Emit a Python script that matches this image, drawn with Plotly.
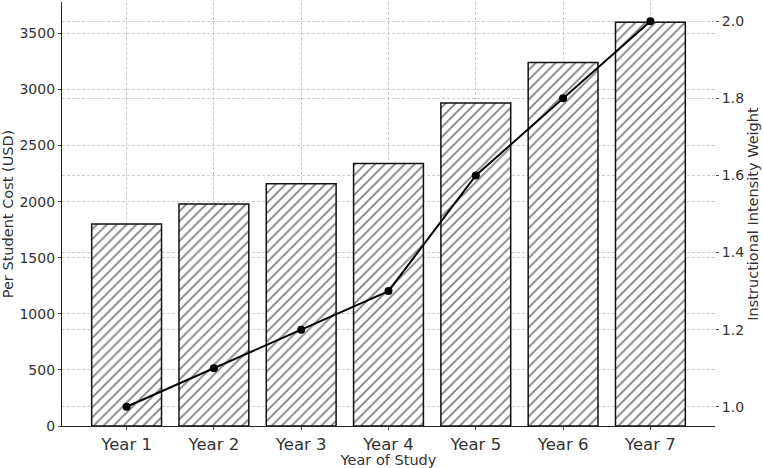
import plotly.graph_objects as go

years = ["Year 1", "Year 2", "Year 3", "Year 4", "Year 5", "Year 6", "Year 7"]
cost_usd = [1800, 1980, 2160, 2340, 2880, 3240, 3600]
intensity = [1.0, 1.1, 1.2, 1.3, 1.6, 1.8, 2.0]
cost_ticks = [0, 500, 1000, 1500, 2000, 2500, 3000, 3500]
weight_ticks = [1.0, 1.2, 1.4, 1.6, 1.8, 2.0]

FONT = "DejaVu Sans"
TXT = "#333333"
GRID = "#cccccc"
DASH = "3px,2px"

fig = go.Figure()
fig.add_trace(go.Bar(
    x=list(range(len(years))), y=cost_usd,
    width=0.8,
    marker=dict(color="white",
                line=dict(color="#111111", width=1.5),
                pattern=dict(shape="/", fgcolor="#000000", bgcolor="white",
                             size=7, solidity=0.25)),
    yaxis="y", showlegend=False,
))
fig.add_trace(go.Scatter(
    x=list(range(len(years))), y=intensity,
    mode="lines+markers",
    line=dict(color="black", width=2),
    marker=dict(color="black", size=8),
    yaxis="y2", showlegend=False,
))

fig.update_layout(
    width=763, height=468,
    margin=dict(l=62, r=48, t=2, b=42),
    paper_bgcolor="white", plot_bgcolor="white",
    font=dict(family=FONT, color=TXT),
    xaxis=dict(
        range=[-0.74, 6.74],
        tickmode="array", tickvals=list(range(len(years))), ticktext=years,
        tickfont=dict(size=16.5, color=TXT),
        title=dict(text="Year of Study", font=dict(size=14.5, color=TXT), standoff=0),
        showline=True, linecolor="#222222", linewidth=1.2,
        ticks="outside", ticklen=3, tickcolor="#444444",
        showgrid=True, gridcolor=GRID, griddash=DASH, gridwidth=0.8,
        zeroline=False,
    ),
    yaxis=dict(
        range=[0, 3780],
        tickmode="array", tickvals=cost_ticks,
        tickfont=dict(size=14, color=TXT),
        title=dict(text="Per Student Cost (USD)", font=dict(size=14.5, color=TXT), standoff=4),
        showline=True, linecolor="#222222", linewidth=1.2,
        ticks="outside", ticklen=3, tickcolor="#444444",
        showgrid=True, gridcolor=GRID, griddash=DASH, gridwidth=0.8,
        zeroline=False,
    ),
    yaxis2=dict(
        range=[0.95, 2.05],
        overlaying="y", side="right",
        tickmode="array", tickvals=weight_ticks,
        tickformat=".1f",
        tickfont=dict(size=14, color=TXT),
        title=dict(text="Instructional Intensity Weight", font=dict(size=14.5, color=TXT), standoff=4),
        showline=False,
        ticks="outside", ticklen=3, tickcolor="#444444",
        showgrid=True, gridcolor=GRID, griddash=DASH, gridwidth=0.8,
        zeroline=False,
    ),
    bargap=0.2,
)

fig.write_html("out.html")
